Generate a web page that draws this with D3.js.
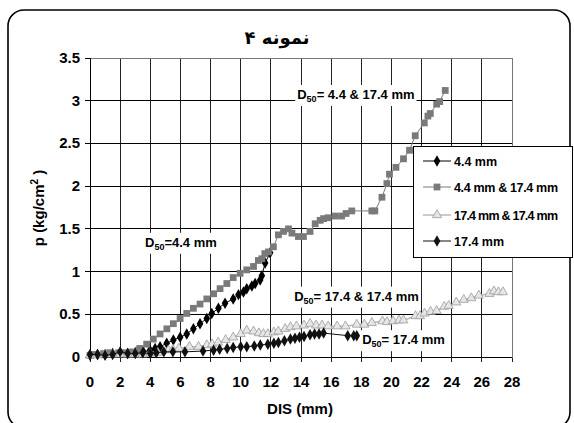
<!DOCTYPE html>
<html>
<head>
<meta charset="utf-8">
<script src="https://cdn.jsdelivr.net/npm/d3@7"></script>
<style>
body { margin: 0; background: #fff; }
text { font-family: "Liberation Sans", Arial, sans-serif; font-weight: bold; }
</style>
</head>
<body>
<svg width="574" height="423"></svg>
<script>
// --- data ---
var title = "نمونه ۴"
var x_label = "DIS (mm)"
var x_ticks = [0, 2, 4, 6, 8, 10, 12, 14, 16, 18, 20, 22, 24, 26, 28]
var y_ticks = [0, 0.5, 1, 1.5, 2, 2.5, 3, 3.5]

var s1_x = [0, 0.5, 1, 1.5, 2, 2.5, 3, 3.54, 3.98, 4.32, 4.65, 5.09, 5.53, 5.98, 6.42, 6.86, 7.3, 7.75, 8.08, 8.52, 8.96, 9.5, 9.85, 10.18, 10.4, 10.74, 10.96, 11.29, 11.4, 11.62, 11.95]
var s1_y = [0.02, 0.03, 0.03, 0.04, 0.05, 0.04, 0.05, 0.06, 0.08, 0.10, 0.12, 0.16, 0.20, 0.23, 0.27, 0.33, 0.39, 0.45, 0.51, 0.57, 0.63, 0.68, 0.73, 0.76, 0.80, 0.83, 0.86, 0.90, 0.95, 1.10, 1.22]

var s2_x = [0, 0.33, 0.9, 1.3, 1.9, 2.3, 2.8, 3.2, 3.3, 3.76, 4.2, 4.65, 5.1, 5.53, 5.98, 6.42, 6.86, 7.3, 7.75, 8.2, 8.63, 9.08, 9.5, 9.96, 10.4, 10.85, 11.17, 11.4, 11.6, 11.84, 12.17, 12.5, 12.84, 13.17, 13.4, 13.83, 14.16, 14.6, 14.94, 15.27, 15.5, 15.8, 16.27, 16.7, 16.99, 17.37, 18.7, 18.9, 19.37, 19.7, 19.87, 20.3, 20.8, 21.2, 21.58, 22.18, 22.42, 22.58, 23.0, 23.2, 23.57]
var s2_y = [0.02, 0.03, 0.04, 0.05, 0.05, 0.05, 0.06, 0.08, 0.10, 0.15, 0.21, 0.27, 0.33, 0.39, 0.45, 0.51, 0.57, 0.62, 0.68, 0.74, 0.80, 0.86, 0.93, 0.98, 1.02, 1.06, 1.13, 1.15, 1.21, 1.23, 1.29, 1.43, 1.47, 1.50, 1.45, 1.41, 1.41, 1.47, 1.56, 1.60, 1.62, 1.63, 1.65, 1.65, 1.68, 1.71, 1.71, 1.71, 1.87, 2.03, 2.14, 2.22, 2.32, 2.42, 2.59, 2.74, 2.82, 2.85, 2.96, 2.99, 3.12]

var s3_x = [0, 0.5, 1, 1.5, 2, 2.5, 3, 3.5, 4, 4.5, 5.2, 5.5, 5.9, 6.6, 7.2, 7.75, 8.1, 8.5, 9.0, 9.5, 10.0, 10.4, 10.85, 11.2, 11.5, 11.8, 12.2, 12.5, 12.95, 13.3, 13.7, 14.2, 14.6, 15.0, 15.4, 15.8, 16.4, 16.95, 17.7, 18.2, 18.7, 19.4, 19.7, 20.1, 20.5, 20.8, 21.6, 21.9, 22.2, 22.6, 23.0, 23.5, 23.8, 24.3, 24.8, 25.3, 25.8, 26.5, 26.8, 27.1, 27.4]
var s3_y = [0.02, 0.02, 0.03, 0.03, 0.03, 0.03, 0.03, 0.03, 0.04, 0.05, 0.08, 0.09, 0.10, 0.12, 0.12, 0.14, 0.15, 0.17, 0.20, 0.23, 0.27, 0.31, 0.30, 0.28, 0.27, 0.27, 0.29, 0.30, 0.33, 0.35, 0.36, 0.37, 0.39, 0.37, 0.37, 0.36, 0.36, 0.36, 0.38, 0.38, 0.40, 0.42, 0.41, 0.42, 0.43, 0.43, 0.48, 0.48, 0.51, 0.53, 0.54, 0.59, 0.60, 0.64, 0.67, 0.69, 0.72, 0.74, 0.77, 0.76, 0.76]

var s4_x = [0, 0.5, 1.0, 1.5, 2.0, 2.5, 3.0, 3.5, 4.0, 4.4, 4.9, 5.5, 6.3, 7.5, 8.2, 8.6, 9.1, 9.5, 10.0, 10.4, 10.9, 11.3, 11.8, 12.2, 12.5, 12.9, 13.3, 13.6, 13.9, 14.2, 14.6, 14.9, 15.2, 15.5, 17.1, 17.5, 17.7]
var s4_y = [0.03, 0.03, 0.02, 0.03, 0.06, 0.04, 0.04, 0.05, 0.04, 0.05, 0.06, 0.06, 0.06, 0.07, 0.08, 0.09, 0.10, 0.11, 0.12, 0.12, 0.13, 0.14, 0.15, 0.16, 0.17, 0.19, 0.21, 0.22, 0.23, 0.24, 0.26, 0.27, 0.27, 0.28, 0.25, 0.25, 0.25]

var series_names = ["4.4 mm", "4.4 mm & 17.4 mm", "17.4 mm & 17.4 mm", "17.4 mm"]

// D50 notes: text parts and anchor in data units
var note_pre = ["= 4.4 & 17.4 mm", "=4.4 mm", "= 17.4 & 17.4 mm", "= 17.4 mm"]
var note_x = [13.75, 3.65, 13.55, 18.06]
var note_y = [3.02, 1.29, 0.66, 0.15]

/*********
*layout
*********/
var plot_left = 90, plot_right = 512, plot_top = 58, plot_bottom = 357

var svg = d3.select("svg")

var x = d3.scaleLinear().domain([0, 28]).range([plot_left, plot_right])
var y = d3.scaleLinear().domain([0, 3.5]).range([plot_bottom, plot_top])

var series = [
  {name: series_names[0], xs: s1_x, ys: s1_y, line: "#000", lw: 1, mark: d3.symbolDiamond, size: 38, fill: "#000", stroke: "none"},
  {name: series_names[1], xs: s2_x, ys: s2_y, line: "#7a7a7a", lw: 1, mark: d3.symbolSquare, size: 46, fill: "#7a7a7a", stroke: "none"},
  {name: series_names[2], xs: s3_x, ys: s3_y, line: "#b8b8b8", lw: 1.5, mark: d3.symbolTriangle, size: 36, fill: "#e6e6e6", stroke: "#9a9a9a"},
  {name: series_names[3], xs: s4_x, ys: s4_y, line: "#111", lw: 1, mark: d3.symbolDiamond, size: 38, fill: "#111", stroke: "none"}
]

// outer frame
svg.append("rect")
  .attr("x", 8).attr("y", 10)
  .attr("width", 562).attr("height", 418)
  .attr("rx", 16).attr("ry", 16)
  .attr("fill", "#fff")
  .attr("stroke", "#000")
  .attr("stroke-width", 1.6)

// title
svg.append("text")
  .attr("x", 277).attr("y", 44)
  .attr("text-anchor", "middle")
  .style("font-family", "'DejaVu Serif', 'DejaVu Sans', serif")
  .style("font-size", "18px")
  .attr("direction", "rtl")
  .text(title)

// grid
var grid = svg.append("g").attr("shape-rendering", "crispEdges")
grid.selectAll(".vg")
  .data(x_ticks)
  .enter()
  .append("line")
  .attr("x1", d => x(d)).attr("x2", d => x(d))
  .attr("y1", plot_top).attr("y2", plot_bottom + 5)
  .attr("stroke", "#222")
  .attr("stroke-width", 1)
grid.selectAll(".hg")
  .data(y_ticks)
  .enter()
  .append("line")
  .attr("x1", plot_left - 5).attr("x2", plot_right)
  .attr("y1", d => y(d)).attr("y2", d => y(d))
  .attr("stroke", "#000")
  .attr("stroke-width", 1)

grid.append("rect")
  .attr("x", plot_left).attr("y", plot_top)
  .attr("width", plot_right - plot_left).attr("height", plot_bottom - plot_top)
  .attr("fill", "none")
  .attr("stroke", "#777")
  .attr("stroke-width", 1)
grid.append("line")
  .attr("x1", plot_left).attr("x2", plot_left)
  .attr("y1", plot_top).attr("y2", plot_bottom)
  .attr("stroke", "#000")
grid.append("line")
  .attr("x1", plot_left).attr("x2", plot_right)
  .attr("y1", plot_bottom).attr("y2", plot_bottom)
  .attr("stroke", "#000")

// tick labels
svg.selectAll(".xt")
  .data(x_ticks)
  .enter()
  .append("text")
  .attr("x", d => x(d)).attr("y", 387)
  .attr("text-anchor", "middle")
  .style("font-size", "15px")
  .text(d => d)
svg.selectAll(".yt")
  .data(y_ticks)
  .enter()
  .append("text")
  .attr("x", 80).attr("y", d => y(d) + 5)
  .attr("text-anchor", "end")
  .style("font-size", "15px")
  .text(d => d)

// axis titles
svg.append("text")
  .attr("x", 300).attr("y", 414)
  .attr("text-anchor", "middle")
  .style("font-size", "15px")
  .text(x_label)

var yl = svg.append("text")
  .attr("transform", "translate(44,208) rotate(-90)")
  .attr("text-anchor", "middle")
  .style("font-size", "15px")
yl.append("tspan").text("p (kg/cm")
yl.append("tspan").attr("dy", -6).style("font-size", "10px").text("2")
yl.append("tspan").attr("dy", 6).text(" )")

// series
var line = d3.line().x(d => x(d[0])).y(d => y(d[1]))
var sg = svg.append("g")
series.forEach(function(s) {
  var pts = s.xs.map((v, i) => [v, s.ys[i]])
  sg.append("path")
    .datum(pts)
    .attr("d", line)
    .attr("fill", "none")
    .attr("stroke", s.line)
    .attr("stroke-width", s.lw)
  sg.selectAll(null)
    .data(pts)
    .enter()
    .append("path")
    .attr("transform", d => "translate(" + x(d[0]) + "," + y(d[1]) + ")")
    .attr("d", d3.symbol().type(s.mark).size(s.size))
    .attr("fill", s.fill)
    .attr("stroke", s.stroke)
    .attr("stroke-width", 0.8)
})

// D50 notes with white background
var notes = svg.append("g")
note_pre.forEach(function(t, i) {
  var g = notes.append("g")
  var txt = g.append("text")
    .attr("x", x(note_x[i])).attr("y", y(note_y[i]))
    .style("font-size", "13px")
  txt.append("tspan").text("D")
  txt.append("tspan").attr("dy", 3).style("font-size", "9px").text("50")
  txt.append("tspan").attr("dy", -3).text(t)
  var bb = txt.node().getBBox()
  g.insert("rect", "text")
    .attr("x", bb.x - 2).attr("y", bb.y - 2)
    .attr("width", bb.width + 4).attr("height", bb.height + 4)
    .attr("fill", "#fff")
})

// legend
var leg = svg.append("g").attr("transform", "translate(413,146)")
leg.append("rect")
  .attr("width", 159).attr("height", 111)
  .attr("fill", "#fff")
  .attr("stroke", "#000")
  .attr("stroke-width", 1)
  .attr("shape-rendering", "crispEdges")
var li = leg.selectAll(".li")
  .data(series)
  .enter()
  .append("g")
  .attr("transform", (d, i) => "translate(0," + [15, 41, 69, 95][i] + ")")
li.append("line")
  .attr("x1", 10).attr("x2", 38)
  .attr("stroke", d => d.line)
  .attr("stroke-width", d => d.lw)
li.append("path")
  .attr("transform", "translate(24,0)")
  .attr("d", d => d3.symbol().type(d.mark).size(d.size)())
  .attr("fill", d => d.fill)
  .attr("stroke", d => d.stroke)
  .attr("stroke-width", 0.8)
li.append("text")
  .attr("x", 41).attr("y", 5)
  .style("font-size", "12.5px")
  .attr("textLength", d => d.name.length > 12 ? (d.name.length > 17 ? 112 : 104) : null)
  .text(d => d.name)
</script>
</body>
</html>
